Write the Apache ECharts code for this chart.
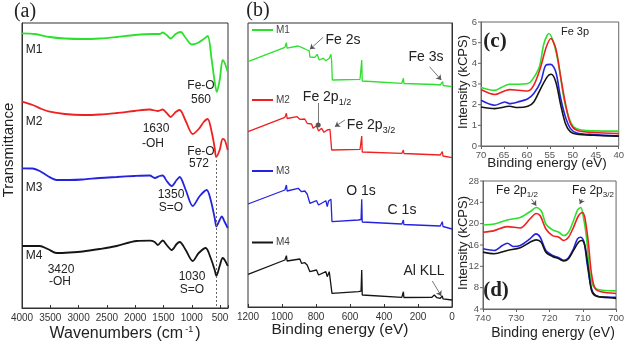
<!DOCTYPE html>
<html><head><meta charset="utf-8">
<script src="https://cdn.jsdelivr.net/npm/echarts@6/dist/echarts.min.js"></script>
<style>html,body{margin:0;padding:0;background:#fff}#wrap{position:relative;width:627px;height:344px}#c{position:absolute;left:0;top:0;width:627px;height:344px}#c2{position:absolute;left:455px;top:0;width:172px;height:344px}</style>
</head><body><div id="wrap"><div id="c"></div><div id="c2"></div></div>
<script>
// ---------- (a) FTIR: [wavenumber cm-1, transmittance (a.u., offset)] ----------
const ftirM1 = [[4000,274.7],[3776,274],[3511,271],[3245,269.5],[2927,269],[2627,269.5],[2327,271],[2009,273],[1690,274],[1567,274],[1514,275.5],[1443,273],[1373,269.5],[1284,274],[1196,276],[1107,270],[1001,263.5],[895,265],[789,269],[719,272],[648,248],[595,226],[558,216],[507,228],[454,248],[418,245],[365,236]];
const ftirM2 = [[4000,206.3],[3811,203],[3652,199],[3511,196.3],[3245,194],[2927,193],[2627,193.5],[2327,195],[2009,197],[1743,198.5],[1602,197],[1514,198.5],[1443,195],[1373,191],[1284,196],[1214,198],[1107,187],[983,174],[877,179],[789,186],[719,189],[648,176],[595,160],[570,151],[507,158],[454,169],[418,168],[365,158]];
const ftirM3 = [[4000,139.7],[3811,139.5],[3687,137],[3546,132],[3387,128],[3157,128],[2927,128.5],[2627,130],[2327,131],[2009,132],[1743,132.5],[1655,130],[1567,132],[1514,132.5],[1443,127],[1355,122],[1267,128],[1214,131],[1107,118],[983,102],[859,112],[736,118],[666,108],[595,90],[565,81.5],[507,88],[471,91.5],[418,86],[365,80]];
const ftirM4 = [[4000,62],[3687,62],[3546,59],[3387,55],[3157,55.5],[2927,56.5],[2627,59],[2327,62],[1974,67],[1743,67.3],[1655,66],[1602,63],[1514,67.5],[1443,63],[1355,58],[1267,64],[1214,66],[1107,58],[983,47],[877,55],[754,60],[666,50],[595,38],[565,32],[507,42],[454,50],[418,48],[365,42]];
const ftirXTicks = [4000,3500,3000,2500,2000,1500,1000,500];

// ---------- (b) XPS survey: [binding energy eV, intensity (a.u., offset)] ----------
const xpsM1 = [[1200,245.3],[983,259.7],[977,259.5],[974,264.3],[970,258.9],[964,258.7],[905,261],[885,259.7],[876,260.3],[852,257],[840,256.3],[836,250],[832,249.7],[807,249.7],[793,252.7],[781,247],[758,248.7],[742,246.3],[722,248.7],[712,252.7],[708,246],[704,227],[541,227.7],[535,228],[531,247],[528,226],[522,224.3],[295,223.7],[288,223.8],[286,228.7],[283,223.5],[276,223.7],[100,222.5],[69,222],[58,222],[55,225.3],[52,221.5],[45,221],[0,220.3]];
const xpsM2 = [[1200,175.3],[983,189.7],[977,189.5],[974,193.7],[970,188.5],[964,187.7],[911,190.3],[895,187.7],[866,188],[852,183.7],[826,183],[817,178.7],[797,181.3],[785,176],[767,178.7],[753,174.7],[734,177],[718,177.7],[712,176],[708,157],[541,157.7],[535,158],[531,171],[528,155],[522,154.3],[295,153.7],[288,153.8],[286,157],[283,153.5],[276,153],[69,152],[60,152],[57,155.3],[53,151],[45,150.3],[0,149.3]];
const xpsM3 = [[1200,103],[983,117],[977,117],[974,122],[970,116],[964,115.3],[905,118.7],[885,115.3],[866,116],[852,113],[836,103.7],[797,106.3],[785,102],[742,106.3],[734,100.3],[726,106],[718,107],[712,107.7],[706,85.3],[551,87],[535,87.5],[531,107.7],[528,85],[522,83.7],[295,83],[288,83],[286,87],[283,82.5],[276,82],[69,81],[60,81],[57,85.3],[53,80.5],[45,79.7],[0,78]];
const xpsM4 = [[1200,32.7],[983,47],[977,47],[974,51.3],[970,46],[964,45.3],[895,48],[885,43.7],[866,44.3],[852,42],[836,35.3],[797,37],[785,32],[742,35.3],[734,30.3],[722,35.3],[714,37],[706,13.7],[551,15.3],[535,15.8],[531,37],[528,12],[522,10.3],[295,9.7],[288,9.8],[286,15.3],[283,9.5],[276,8.7],[118,9.7],[104,12],[89,9.3],[69,8.7],[60,8.8],[57,11],[53,8.2],[45,7.7],[0,7]];
const xpsXTicks = [1200,1000,800,600,400,200,0];

// ---------- (c) Fe 3p: [eV, kCPS] ----------
const fe3pM1 = [[70,2.83],[67,2.69],[65.6,2.83],[63.8,2.99],[62,2.99],[59.8,3.02],[58.8,3.21],[57.3,3.82],[56.3,4.95],[55.2,5.44],[54.1,4.95],[53,3.82],[52,2.37],[50.9,1.40],[49.8,0.92],[48.4,0.79],[45.5,0.73],[40,0.72]];
const fe3pM2 = [[70,2.73],[67,2.49],[63.8,2.73],[62,2.70],[59.8,2.66],[58.5,2.94],[57,3.82],[55.9,4.71],[54.8,5.20],[53.7,4.71],[52.7,3.42],[51.6,2.05],[50.5,1.08],[49.1,0.76],[45.5,0.65],[40,0.60]];
const fe3pM3 = [[70,2.21],[67,1.97],[64.8,2.13],[63.8,2.05],[62,2.13],[59.8,2.29],[58.5,2.54],[57,3.10],[55.9,3.90],[54.8,3.95],[53.7,3.58],[52.7,2.37],[51.6,1.40],[50.5,0.84],[49.1,0.63],[45.5,0.55],[40,0.48]];
const fe3pM4 = [[70,1.89],[67,1.81],[63.8,1.92],[62,1.86],[59.8,1.92],[58.5,2.13],[57,2.78],[55.5,3.37],[54.7,3.47],[53.7,3.10],[52.7,2.05],[51.6,1.08],[50.5,0.68],[49.1,0.57],[45.5,0.52],[40,0.48]];
const fe3pYTicks = [0,1,2,3,4,5,6];

// ---------- (d) Fe 2p: [eV, kCPS] ----------
const fe2pM1 = [[740,19.76],[736.6,19.94],[732.7,20.69],[728.8,21.17],[725.9,22.23],[724,23.03],[722.5,22.42],[721.1,19.94],[719.1,18.83],[717.2,18.38],[715.7,17.77],[714.3,18.38],[712.8,20.56],[711.6,22.55],[710.6,23.03],[709.9,21.49],[708.9,17.45],[708,11.26],[707,8.47],[705.5,7.67],[700,7.40]];
const fe2pM2 = [[740,18.38],[736.6,18.7],[732.7,19.44],[728.8,19.2],[725.9,20.87],[724,21.92],[722.8,21.49],[721.1,19.0],[719.1,17.77],[717.2,17.45],[715.7,16.84],[714.3,17.45],[712.8,19.31],[711.3,21.49],[710.1,22.1],[709.4,21.17],[708.4,16.84],[707.4,10.64],[706.3,7.85],[704.5,7.22],[700,6.92]];
const fe2pM3 = [[740,15.29],[736.6,14.98],[734.2,15.9],[732.7,16.34],[730.8,15.72],[728.8,15.9],[725.9,17.15],[724.1,18.08],[722.8,17.45],[721.1,14.98],[719.1,14.05],[717.2,13.62],[715.7,13.12],[714.3,13.62],[712.8,15.29],[711.6,17.15],[710.6,17.45],[709.6,16.52],[708.7,12.5],[707.4,7.85],[706.3,6.6],[703.6,6.18],[700,6.18]];
const fe2pM4 = [[740,14.66],[736.6,14.36],[732.7,14.98],[728.8,15.48],[725.9,16.52],[724,16.97],[722.5,16.52],[721.1,14.66],[719.1,13.86],[717.2,13.43],[715.7,12.99],[714.3,13.43],[712.8,14.98],[711.3,16.52],[710.3,16.84],[709.4,15.9],[708.4,11.87],[707.4,7.53],[706,6.42],[702.6,6.18],[700,6.0]];
const fe2pYTicks = [4,8,12,16,20,24,28];

const sampleNames = ['M1','M2','M3','M4'];

const FONT = '"Liberation Sans", Arial, sans-serif';
const SERIF = '"Liberation Serif", "Times New Roman", serif';
const COLORS = ['#2ee02e','#f02020','#2424e0','#151515'];

const arrowLine = {color:'#555', width:0.8, type:'solid'};
function ml(pairs, sym){
  return {silent:true, animation:false, symbol:sym||['none','arrow'], symbolSize:5, label:{show:false},
    lineStyle:arrowLine, emphasis:{disabled:true},
    data: pairs.map(p => [{coord:p[0]},{coord:p[1]}])};
}
function line(name, data, idx, color, w, smooth, extra){
  return Object.assign({type:'line', name, data, xAxisIndex:idx, yAxisIndex:idx, showSymbol:false, symbol:'none',
    smooth: smooth, silent:true, animation:false, lineStyle:{color, width:w}, itemStyle:{color}}, extra||{});
}

// ================= chart 1: panels (a) and (b) =================
const chart = echarts.init(document.getElementById('c'), null, {renderer:'canvas'});
function grid(l,t,w,h,c){return {left:l,top:t,width:w,height:h,show:true,borderColor:c,borderWidth:1,backgroundColor:'transparent',containLabel:false};}
function xax(gi, min, max, extra){
  return Object.assign({type:'value', gridIndex:gi, inverse:true, min, max,
    axisLine:{show:true, lineStyle:{color:'#333', width:1}},
    axisTick:{show:true, inside:true, length:3, lineStyle:{color:'#333'}},
    axisLabel:{show:true, color:'#333', fontSize:10, fontFamily:FONT, margin:5},
    splitLine:{show:false}}, extra);
}
const xAxes = [
  xax(0, 360, 4000, {minInterval:500, maxInterval:500, splitNumber:8}),
  xax(1, 0, 1200, {interval:200})
];
xAxes[0].axisLabel.formatter = v => (ftirXTicks.indexOf(v) >= 0 ? String(v) : '');
xAxes[1].axisLabel.formatter = v => (xpsXTicks.indexOf(v) >= 0 ? String(v) : '');
const yAxes = [0,1].map(gi => ({type:'value', gridIndex:gi, min:0, max: gi===0?285:284,
  axisLine:{show:true, lineStyle:{color:'#333'}}, axisTick:{show:false}, axisLabel:{show:false}, splitLine:{show:false}}));

const ftir = [ftirM1, ftirM2, ftirM3, ftirM4];
const xps = [xpsM1, xpsM2, xpsM3, xpsM4];
const series = [];
ftir.forEach((d,i)=>series.push(line(sampleNames[i]+' FTIR', d, 0, COLORS[i], 1.8, 0.3,
  i===3 ? {markLine:{silent:true, animation:false, symbol:['none','none'], label:{show:false}, lineStyle:{color:'#666', width:1, type:[2,2]}, data:[[{coord:[565,148]},{coord:[565,0]}]]}} : {})));
xps.forEach((d,i)=>{
  let extra = {};
  if (i===0) extra.markLine = ml([[[758,269.7],[836,257.7]], [[132,240.3],[63,227]]]);
  if (i===1) extra.markLine = ml([[[630,187],[689,180.3]]]);
  if (i===3) extra.markLine = ml([[[116,26],[63,11]]]);
  series.push(line(sampleNames[i]+' survey', d, 1, COLORS[i], 1.3, false, extra));
});
series.push(line('M2 2p1/2 marker', [], 1, '#555', 1, false, {markLine: ml([[[787,204],[787,182]]], ['none','circle'])}));

function T(x, y, text, size, extra, elExtra){
  return Object.assign({type:'text', x, y, silent:true, z:100,
    style: Object.assign({text, fontSize:size, fontFamily:FONT, fill:'#222', align:'center', verticalAlign:'middle'}, extra||{})}, elExtra||{});
}
function sub(x, y, main, s, size, sSize){
  return {type:'text', x, y, silent:true, z:100, style:{text:'{a|'+main+'}{s|'+s+'}', align:'center', verticalAlign:'middle', fill:'#222',
    rich:{a:{fontSize:size, fontFamily:FONT, fill:'#222', verticalAlign:'bottom', lineHeight:size*1.2}, s:{fontSize:sSize, fontFamily:FONT, fill:'#222', verticalAlign:'bottom', lineHeight:size*1.2, padding:[0,0,-3,0]}}}};
}
const graphics = [
  T(25,12,'(a)',20,{fontFamily:SERIF}),
  T(258,11,'(b)',20,{fontFamily:SERIF}),
  T(495,42,'(c)',21,{fontFamily:SERIF, fontWeight:'bold'}),
  T(496,291,'(d)',21,{fontFamily:SERIF, fontWeight:'bold'}),
  T(9,150,'Transmittance',15,{}, {rotation:Math.PI/2}),
  {type:'text', x:125, y:334, silent:true, style:{text:'{a|Wavenumbers (cm}{s|-1}{a|)}', align:'center', verticalAlign:'middle',
    rich:{a:{fontSize:16, fontFamily:FONT, fill:'#222', lineHeight:18}, s:{fontSize:9, fontFamily:FONT, fill:'#222', verticalAlign:'top', lineHeight:18, padding:[0,2,0,2]}}}},
  T(340,330,'Binding energy (eV)',15.5),
  T(547,163,'Binding energy (eV)',13.5),
  T(553,333,'Binding energy (eV)',14),
  T(463,82,'Intensity (kCPS)',13,{}, {rotation:Math.PI/2}),
  T(463,243,'Intensity (kCPS)',13,{}, {rotation:Math.PI/2}),
  T(34,50,'M1',12), T(34,122,'M2',12), T(34,188,'M3',12), T(34,256,'M4',12),
  T(201,86,'Fe-O',12), T(201,100,'560',12),
  T(156,129,'1630',12), T(153,144,'-OH',12),
  T(201,152,'Fe-O',12), T(199,164,'572',12),
  T(171,195,'1350',12), T(171,208,'S=O',12),
  T(61,270,'3420',12), T(60,282,'-OH',12),
  T(192,277,'1030',12), T(192,290,'S=O',12),
  T(343,40,'Fe 2s',14), T(426,57,'Fe 3s',14),
  sub(327,96,'Fe 2p','1/2',14,9), sub(371,124,'Fe 2p','3/2',14,9),
  T(361,191,'O 1s',14), T(402,210,'C 1s',14), T(424,271,'Al KLL',14),
  T(575,32,'Fe 3p',11),
  sub(517,189,'Fe 2p','1/2',12,8), sub(593,189,'Fe 2p','3/2',12,8)
];
const legY = [30,100,171,242.5];
sampleNames.forEach((n,i)=>{
  graphics.push({type:'line', silent:true, shape:{x1:252,y1:legY[i],x2:273,y2:legY[i]}, style:{stroke:COLORS[i], lineWidth:2}});
  graphics.push(T(276,legY[i],n,10,{align:'left', fill:'#444'}));
});

chart.setOption({
  animation:false, backgroundColor:'#fff',
  grid:[grid(22,23,206,285,'#333'), grid(248,23,204,284,'#333')],
  xAxis:xAxes, yAxis:yAxes, series, graphic:graphics
});

// ================= chart 2: panels (c) and (d) =================
const chart2 = echarts.init(document.getElementById('c2'), null, {renderer:'canvas'});
const fe3p = [fe3pM1, fe3pM2, fe3pM3, fe3pM4];
const fe2p = [fe2pM1, fe2pM2, fe2pM3, fe2pM4];
const series2 = [];
fe3p.forEach((d,i)=>series2.push(line(sampleNames[i]+' Fe3p', d, 0, COLORS[i], 1.6, 0.3)));
fe2p.forEach((d,i)=>{
  let extra = {};
  if (i===0) extra.markLine = ml([[[725.4,24.6],[724,23.35]], [[710.2,24.6],[710.9,23.67]]]);
  series2.push(line(sampleNames[i]+' Fe2p', d, 1, COLORS[i], 1.6, 0.3, extra));
});
function smallLabel(){ return {show:true, color:'#555', fontSize:9.5, margin:4}; }
const GRID_C = {left:26, top:22, width:140, height:124};
const GRID_D = {left:28, top:181, width:138, height:128};
chart2.setOption({
  animation:false, backgroundColor:'transparent',
  grid:[Object.assign({show:true,borderColor:'#666',borderWidth:1}, GRID_C),
        Object.assign({show:true,borderColor:'#666',borderWidth:1}, GRID_D)],
  xAxis:[
    {type:'value', gridIndex:0, inverse:true, min:40, max:70, interval:5, axisLabel:smallLabel(), axisTick:{show:true,length:3}, axisLine:{lineStyle:{color:'#666'}}, splitLine:{show:false}},
    {type:'value', gridIndex:1, inverse:true, min:700, max:740, interval:10, axisLabel:smallLabel(), axisTick:{show:true,length:3}, axisLine:{lineStyle:{color:'#666'}}, splitLine:{show:false}}
  ],
  yAxis:[
    {type:'value', gridIndex:0, min:0, max:6, interval:1, axisLabel:{show:false}, axisTick:{show:false}, axisLine:{show:true,lineStyle:{color:'#666'}}, splitLine:{show:false}},
    {type:'value', gridIndex:1, min:4, max:28, interval:4, axisLabel:{show:false}, axisTick:{show:false}, axisLine:{show:true,lineStyle:{color:'#666'}}, splitLine:{show:false}}
  ],
  series:series2
});
// y tick labels of (c) and (d): positions from chart2's own scales, drawn in chart 1's layer
const OFFSET_X = 455;
const yLabelEls = [];
[[fe3pYTicks, 0, 70, GRID_C, 0, 6], [fe2pYTicks, 1, 740, GRID_D, 4, 28]].forEach(([ticks, gi, xEdge, g, lo, hi]) => {
  ticks.forEach(v => {
    let px = null, py = null;
    try {
      const p = chart2.convertToPixel({xAxisIndex: gi, yAxisIndex: gi}, [xEdge, v]);
      if (p && isFinite(p[0]) && isFinite(p[1])) { px = p[0] + OFFSET_X; py = p[1]; }
    } catch (e) {}
    if (px === null) { px = g.left + OFFSET_X; py = g.top + g.height * (hi - v) / (hi - lo); }
    yLabelEls.push({type:'line', silent:true, z:120, shape:{x1:px-3, y1:py, x2:px, y2:py}, style:{stroke:'#666', lineWidth:1}});
    yLabelEls.push({type:'text', silent:true, z:120, x:px-4, y:py, style:{text:String(v), fontSize:9.5, fontFamily:FONT, fill:'#555', align:'right', verticalAlign:'middle'}});
  });
});
chart.setOption({graphic: graphics.concat(yLabelEls)});
</script></body></html>
